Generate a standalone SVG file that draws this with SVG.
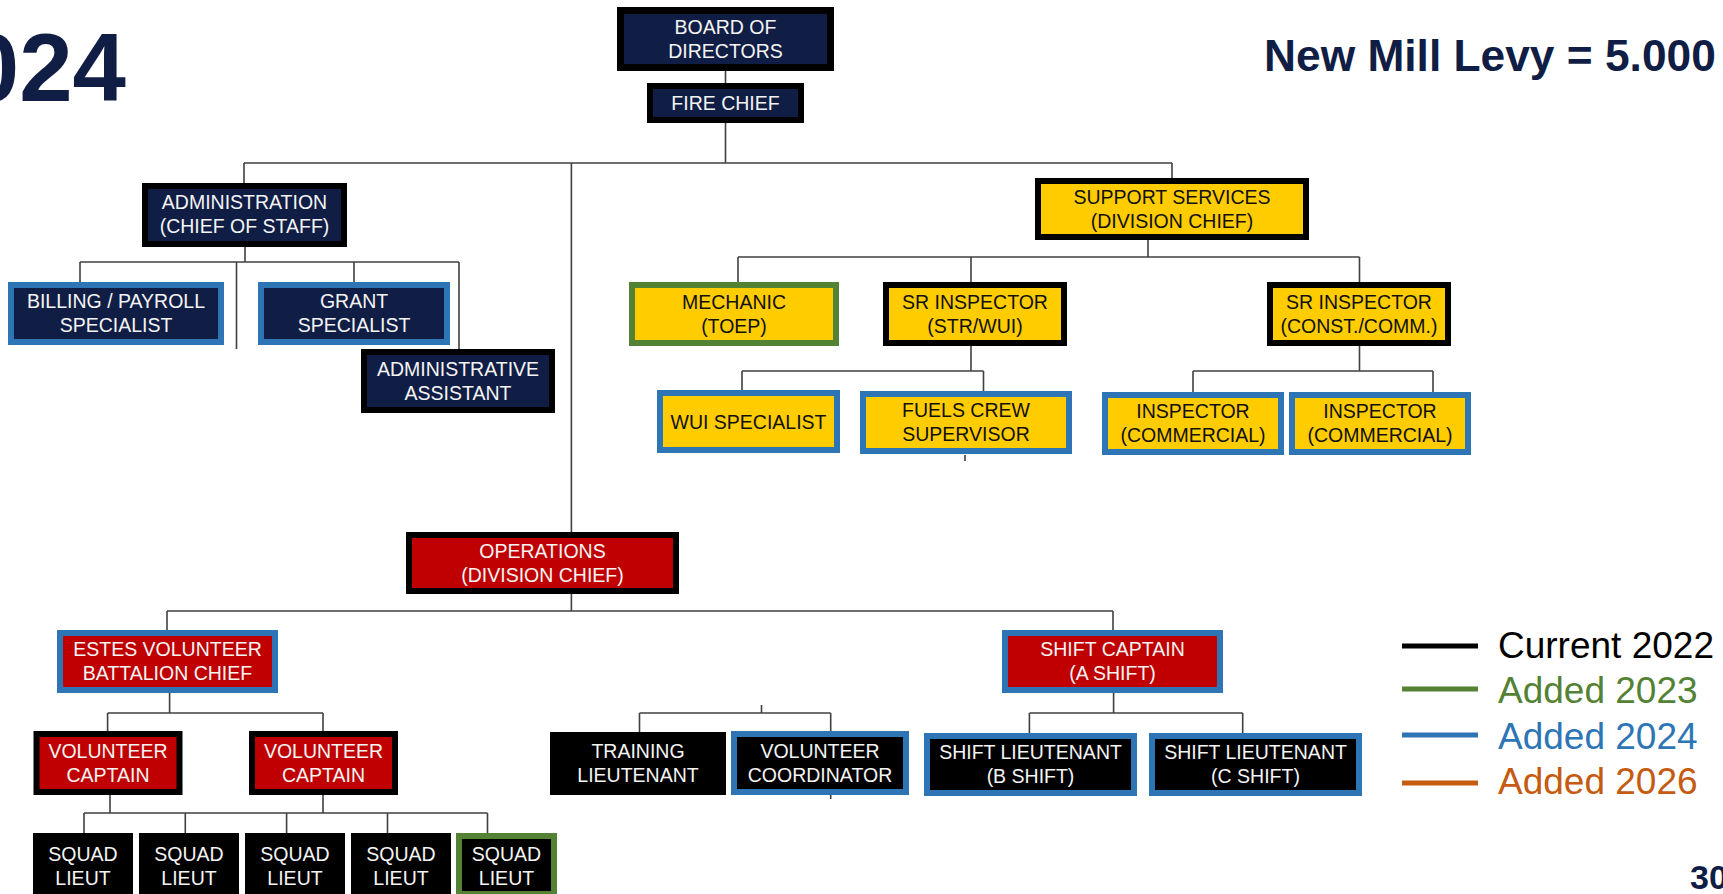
<svg xmlns="http://www.w3.org/2000/svg" width="1723" height="894" viewBox="0 0 1723 894">
<style>
.t{font-family:"Liberation Sans",Arial,sans-serif;font-size:19.5px;text-anchor:middle}
.w{fill:#F4F4F4}
.k{fill:#111111}
.navy{fill:#101D45}
.yel{fill:#FFCC00}
.red{fill:#C00000}
.blk{fill:#000000}
.bk{stroke:#000000;stroke-width:6}
.bb{stroke:#2E75B6;stroke-width:6}
.bg{stroke:#548235;stroke-width:6}
.con{fill:none;stroke:#404040;stroke-width:1.6}
.leg{font-family:"Liberation Sans",Arial,sans-serif;font-size:37px}
</style>
<rect width="1723" height="894" fill="#FFFFFF"/>
<text x="126" y="101" font-family="Liberation Sans,Arial,sans-serif" font-weight="bold" font-size="96" fill="#101D45" text-anchor="end">2024</text>
<text x="1264" y="71" font-family="Liberation Sans,Arial,sans-serif" font-weight="bold" font-size="44.3" fill="#101D45">New Mill Levy = 5.000</text>

<g id="connectors" class="con">
<path d="M725.5 71V83M725.5 123V163M244 163H1172M244 163V183M571.4 163V532M1172 163V178"/>
<path d="M245 247V262M80 262H459M80 262V282M354 262V282M459 262V349M236.5 262V349"/>
<path d="M1148 240V257M738 257H1359.5M738 257V282M971 257V282M1359.5 257V282"/>
<path d="M971 346V371M742 371H983.5M742 371V390M983.5 371V391M965 455V461"/>
<path d="M1359.5 346V371M1193 371H1433M1193 371V392M1433 371V392"/>
<path d="M571.4 594V611M167 611H1113M167 611V630M1113 611V630"/>
<path d="M169.6 693V713M107.6 713H323M107.6 713V731M323 713V731"/>
<path d="M110 795V813M323 795V813M84 813H487.5M84 813V833M185.3 813V833M286.6 813V833M387.5 813V833M487.5 813V833"/>
<path d="M639.5 713H830.7M639.5 713V732M830.7 713V731M761.5 705V713M830.7 795V799"/>
<path d="M1113.6 693V713M1029.4 713H1242.7M1029.4 713V733M1242.7 713V733"/>
</g>

<g id="board"><rect x="620.5" y="10.5" width="210" height="57" class="navy" stroke="#000" stroke-width="7"/><text class="t w" x="725.5" y="33.5">BOARD OF</text><text class="t w" x="725.5" y="57.5">DIRECTORS</text></g>
<g id="firechief"><rect x="650" y="86" width="151" height="34" class="navy bk"/><text class="t w" x="725.5" y="110">FIRE CHIEF</text></g>
<g id="administration"><rect x="145" y="186" width="199" height="58" class="navy bk"/><text class="t w" x="244.5" y="209">ADMINISTRATION</text><text class="t w" x="244.5" y="233">(CHIEF OF STAFF)</text></g>
<g id="billing"><rect x="11" y="285" width="210" height="57" class="navy bb"/><text class="t w" x="116" y="308">BILLING / PAYROLL</text><text class="t w" x="116" y="332">SPECIALIST</text></g>
<g id="grant"><rect x="261" y="285" width="186" height="57" class="navy bb"/><text class="t w" x="354" y="308">GRANT</text><text class="t w" x="354" y="332">SPECIALIST</text></g>
<g id="adminassistant"><rect x="364" y="352" width="188" height="58" class="navy bk"/><text class="t w" x="458" y="375.5">ADMINISTRATIVE</text><text class="t w" x="458" y="399.5">ASSISTANT</text></g>

<g id="support"><rect x="1038" y="181" width="268" height="56" class="yel bk"/><text class="t k" x="1172" y="203.5">SUPPORT SERVICES</text><text class="t k" x="1172" y="227.5">(DIVISION CHIEF)</text></g>
<g id="mechanic"><rect x="632" y="285" width="204" height="58" class="yel bg"/><text class="t k" x="734" y="308.5">MECHANIC</text><text class="t k" x="734" y="332.5">(TOEP)</text></g>
<g id="srinspector1"><rect x="886" y="285" width="178" height="58" class="yel bk"/><text class="t k" x="975" y="308.5">SR INSPECTOR</text><text class="t k" x="975" y="332.5">(STR/WUI)</text></g>
<g id="srinspector2"><rect x="1270" y="285" width="178" height="58" class="yel bk"/><text class="t k" x="1359" y="308.5">SR INSPECTOR</text><text class="t k" x="1359" y="332.5">(CONST./COMM.)</text></g>
<g id="wui"><rect x="660" y="393" width="177" height="57" class="yel bb"/><text class="t k" x="748.5" y="428.5">WUI SPECIALIST</text></g>
<g id="fuels"><rect x="863" y="394" width="206" height="57" class="yel bb"/><text class="t k" x="966" y="417">FUELS CREW</text><text class="t k" x="966" y="441">SUPERVISOR</text></g>
<g id="inspector1"><rect x="1105" y="395" width="176" height="57" class="yel bb"/><text class="t k" x="1193" y="418">INSPECTOR</text><text class="t k" x="1193" y="442">(COMMERCIAL)</text></g>
<g id="inspector2"><rect x="1292" y="395" width="176" height="57" class="yel bb"/><text class="t k" x="1380" y="418">INSPECTOR</text><text class="t k" x="1380" y="442">(COMMERCIAL)</text></g>

<g id="operations"><rect x="409" y="535" width="267" height="56" class="red bk"/><text class="t w" x="542.5" y="557.5">OPERATIONS</text><text class="t w" x="542.5" y="581.5">(DIVISION CHIEF)</text></g>
<g id="estes"><rect x="60" y="633" width="215" height="57" class="red bb"/><text class="t w" x="167.5" y="656">ESTES VOLUNTEER</text><text class="t w" x="167.5" y="680">BATTALION CHIEF</text></g>
<g id="volcaptain1"><rect x="36.5" y="734" width="143" height="58" class="red bk"/><text class="t w" x="108" y="757.5">VOLUNTEER</text><text class="t w" x="108" y="781.5">CAPTAIN</text></g>
<g id="volcaptain2"><rect x="252" y="734" width="143" height="58" class="red bk"/><text class="t w" x="323.5" y="757.5">VOLUNTEER</text><text class="t w" x="323.5" y="781.5">CAPTAIN</text></g>
<g id="training"><rect x="550" y="732" width="176" height="63" class="blk"/><text class="t w" x="638" y="758">TRAINING</text><text class="t w" x="638" y="782">LIEUTENANT</text></g>
<g id="volcoord"><rect x="734" y="734" width="172" height="58" class="blk bb"/><text class="t w" x="820" y="758">VOLUNTEER</text><text class="t w" x="820" y="782">COORDINATOR</text></g>
<g id="shiftcaptain"><rect x="1005" y="633" width="215" height="57" class="red bb"/><text class="t w" x="1112.5" y="656">SHIFT CAPTAIN</text><text class="t w" x="1112.5" y="680">(A SHIFT)</text></g>
<g id="shiftltB"><rect x="927" y="736" width="207" height="57" class="blk bb"/><text class="t w" x="1030.5" y="759">SHIFT LIEUTENANT</text><text class="t w" x="1030.5" y="783">(B SHIFT)</text></g>
<g id="shiftltC"><rect x="1152" y="736" width="207" height="57" class="blk bb"/><text class="t w" x="1255.5" y="759">SHIFT LIEUTENANT</text><text class="t w" x="1255.5" y="783">(C SHIFT)</text></g>

<g id="squad1"><rect x="33" y="833" width="100" height="64" class="blk"/><text class="t w" x="83" y="861">SQUAD</text><text class="t w" x="83" y="885">LIEUT</text></g>
<g id="squad2"><rect x="139" y="833" width="100" height="64" class="blk"/><text class="t w" x="189" y="861">SQUAD</text><text class="t w" x="189" y="885">LIEUT</text></g>
<g id="squad3"><rect x="245" y="833" width="100" height="64" class="blk"/><text class="t w" x="295" y="861">SQUAD</text><text class="t w" x="295" y="885">LIEUT</text></g>
<g id="squad4"><rect x="351" y="833" width="100" height="64" class="blk"/><text class="t w" x="401" y="861">SQUAD</text><text class="t w" x="401" y="885">LIEUT</text></g>
<g id="squad5"><rect x="459" y="836" width="95" height="58" class="blk bg"/><text class="t w" x="506.5" y="861">SQUAD</text><text class="t w" x="506.5" y="885">LIEUT</text></g>

<g id="legend">
<path d="M1402 646H1478" stroke="#000000" stroke-width="5"/>
<path d="M1402 689H1478" stroke="#548235" stroke-width="5"/>
<path d="M1402 735H1478" stroke="#2E75B6" stroke-width="5"/>
<path d="M1402 783H1478" stroke="#C55A11" stroke-width="5"/>
<text class="leg" x="1498" y="658" fill="#000000">Current 2022</text>
<text class="leg" x="1498" y="703" fill="#548235">Added 2023</text>
<text class="leg" x="1498" y="749" fill="#2E75B6">Added 2024</text>
<text class="leg" x="1498" y="794" fill="#C55A11">Added 2026</text>
</g>
<text x="1690" y="889" font-family="Liberation Sans,Arial,sans-serif" font-weight="bold" font-size="34" fill="#101D45">30</text>
</svg>
